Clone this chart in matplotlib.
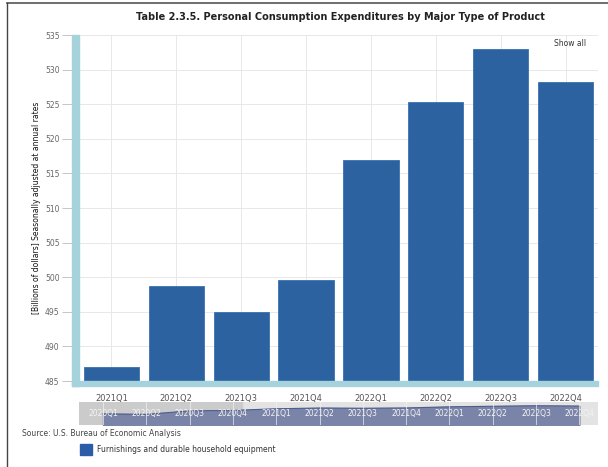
import matplotlib
matplotlib.use("Agg")
import matplotlib.pyplot as plt
import numpy as np
from matplotlib.patches import Rectangle
from matplotlib.lines import Line2D

quarters = ['2021Q1', '2021Q2', '2021Q3', '2021Q4', '2022Q1', '2022Q2', '2022Q3', '2022Q4']
values = [487.0, 498.7, 495.0, 499.6, 516.9, 525.3, 533.0, 528.2]

# navigator covers the full series
nav_quarters = ['2020Q1', '2020Q2', '2020Q3', '2020Q4', '2021Q1', '2021Q2',
                '2021Q3', '2021Q4', '2022Q1', '2022Q2', '2022Q3', '2022Q4']
nav_values = [410.0, 402.0, 455.0, 462.0, 487.0, 498.7, 495.0, 499.6, 516.9, 525.3, 533.0, 528.2]

W, H = 608, 467
fig = plt.figure(figsize=(W / 100, H / 100), dpi=100)
fig.patch.set_facecolor('white')

def fx(x):
    return x / W

def fy(y):
    return 1 - y / H

bar_color = '#2c62a0'
axis_blue = '#a6d2dc'

# main chart area
ax = fig.add_axes([fx(79), fy(381), fx(598) - fx(79), fy(35) - fy(381)])
x = np.arange(len(quarters))
ax.bar(x, [v - 485 for v in values], bottom=485, width=0.85, color=bar_color,
       edgecolor='#3a70ae', linewidth=0.6, zorder=3)
ax.set_xlim(-0.5, len(quarters) - 0.5)
ax.set_ylim(485, 535)
ax.set_yticks(np.arange(485, 536, 5))
ax.set_xticks(x)
ax.set_xticklabels(quarters)
ax.grid(True, color='#e8e8e8', linewidth=0.7, zorder=0)
for s in ax.spines.values():
    s.set_visible(False)
ax.tick_params(axis='y', length=12, width=0.6, color='#bbbbbb', labelsize=5.5,
               labelcolor='#666666', pad=2)
ax.tick_params(axis='x', length=0, labelsize=6, labelcolor='#555555', pad=9)

# thick light-blue axis lines
fig.patches.append(Rectangle((fx(72), fy(386)), fx(7), fy(35) - fy(386),
                             transform=fig.transFigure, color=axis_blue, zorder=5))
fig.patches.append(Rectangle((fx(72), fy(386)), fx(598) - fx(72), fy(381) - fy(386),
                             transform=fig.transFigure, color=axis_blue, zorder=5))

# navigator strip
nav = fig.add_axes([fx(79), fy(425), fx(598) - fx(79), fy(402) - fy(425)])
nx = np.arange(len(nav_quarters))
nav.set_facecolor('#e3e3e3')
nav.set_xlim(-0.554, 11.43)
nav.set_ylim(240, 590)
nav.axvspan(-0.554, 3.21, color='#cbcbcb', zorder=0)
nav.fill_between(nx, 240, nav_values, color='#7a84a8', zorder=1)
nav.plot(nx, nav_values, color='#4d5d8c', linewidth=0.8, zorder=2)
for i in nx:
    nav.axvline(i, color='#f2f2f2', linewidth=0.6, alpha=0.8, zorder=3)
    nav.text(i, 410, nav_quarters[i], color='#f4f4f4', fontsize=5.5,
             ha='center', va='center', zorder=4)
nav.set_xticks([])
nav.set_yticks([])
for s in nav.spines.values():
    s.set_visible(False)

# texts
fig.text(fx(340), fy(17), 'Table 2.3.5. Personal Consumption Expenditures by Major Type of Product',
         ha='center', va='center', fontsize=7, fontweight='bold', color='#222222')
fig.text(fx(570), fy(44), 'Show all', ha='center', va='center', fontsize=5.5, color='#333333')
fig.text(fx(37), fy(208), '[Billions of dollars] Seasonally adjusted at annual rates',
         ha='center', va='center', rotation=90, fontsize=5.5, color='#111111')
fig.text(fx(22), fy(433), 'Source: U.S. Bureau of Economic Analysis',
         ha='left', va='center', fontsize=5.5, color='#444444')
fig.patches.append(Rectangle((fx(80), fy(455)), fx(12), fy(444) - fy(455),
                             transform=fig.transFigure, color='#2a5ca8', zorder=5))
fig.text(fx(97), fy(449.5), 'Furnishings and durable household equipment',
         ha='left', va='center', fontsize=5.5, color='#333333')

# frame lines along top and left edge
fig.add_artist(Line2D([fx(7), 1], [fy(3), fy(3)], color='#555555', linewidth=1.2))
fig.add_artist(Line2D([fx(7), fx(7)], [fy(3), 0], color='#444444', linewidth=1.0))

fig.savefig('out.png', dpi=100)
